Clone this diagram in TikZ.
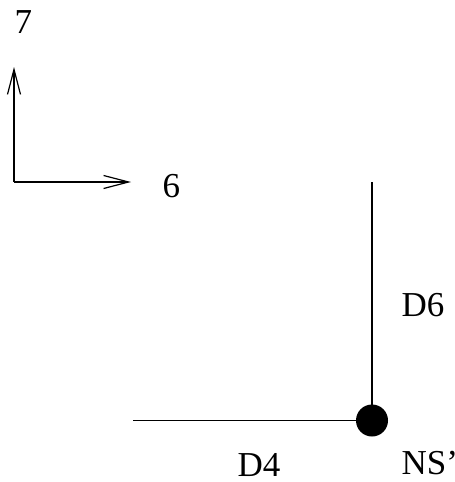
\documentclass[tikz,border=0pt]{standalone}
\usepackage{fontspec}
\setmainfont{Liberation Serif}
\usetikzlibrary{arrows.meta}

\begin{document}
\begin{tikzpicture}[x=0.5pt, y=-0.5pt, line width=0.6pt,
	every node/.style={font=\fontsize{17.5pt}{20pt}\selectfont, inner sep=0pt, anchor=base west},
	>={Straight Barb[length=12.5pt, width=6.5pt, line width=0.6pt]}]
	\useasboundingbox (0,0) rectangle (455,482);
	% axes
	\coordinate (o) at (14,182);
	\coordinate (ax7) at (14,67);
	\coordinate (ax6) at (131,182);
	\draw[->] (o) -- (ax7);
	\draw[->] (o) -- (ax6);
	\node (l7) at (14,33) {7};
	\node (l6) at (162,197) {6};
	% walls meeting at the point
	\node[circle, fill=black, minimum size=16pt, anchor=center] (ns) at (372,420.5) {};
	\coordinate (d6top) at (372,182);
	\coordinate (d4end) at (133,420.5);
	\draw (d6top) -- (ns.center);
	\draw (d4end) -- (ns.center);
	\node (lD6) at (401,316) {D6};
	\node (lD4) at (237,476) {D4};
	\node (lNS) at (401,474) {NS'};
\end{tikzpicture}
\end{document}
